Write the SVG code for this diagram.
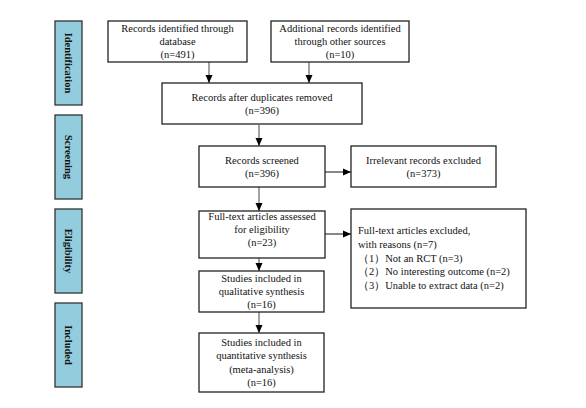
<svg xmlns="http://www.w3.org/2000/svg" width="586" height="408" viewBox="0 0 586 408">
<defs>
<style>
.box{fill:#fff;stroke:#222;stroke-width:1.3}
.side{fill:#93CDDD;stroke:#333;stroke-width:1.3}
.t{font-family:"Liberation Serif","Times New Roman",serif;font-size:10.5px;fill:#111;text-anchor:middle}
.l{font-family:"Liberation Serif","Times New Roman",serif;font-size:10.5px;fill:#111}
.s{font-family:"Liberation Serif","Times New Roman",serif;font-size:10.5px;font-weight:bold;fill:#111;text-anchor:middle}
.g{stroke:#8c8c8c;stroke-width:1.6;fill:none}
.k{stroke:#111;stroke-width:1;fill:none}
</style>
<marker id="ah" viewBox="0 0 8 8" refX="8" refY="4" markerWidth="8" markerHeight="8" markerUnits="userSpaceOnUse" orient="auto">
<path d="M0,0.5 L8,4 L0,7.5 Z" fill="#000"/>
</marker>
</defs>
<rect width="586" height="408" fill="#fff"/>

<g id="side-identification"><rect class="side" x="55" y="21" width="27" height="84"/><text class="s" transform="translate(68.5,63) rotate(90)" dy="3.5">Identification</text></g>
<g id="side-screening"><rect class="side" x="55" y="115" width="27" height="84"/><text class="s" transform="translate(68.5,157) rotate(90)" dy="3.5">Screening</text></g>
<g id="side-eligibility"><rect class="side" x="55" y="209" width="27" height="84"/><text class="s" transform="translate(68.5,251) rotate(90)" dy="3.5">Eligibility</text></g>
<g id="side-included"><rect class="side" x="55" y="303" width="27" height="84"/><text class="s" transform="translate(68.5,345) rotate(90)" dy="3.5">Included</text></g>

<g id="connectors">
<line class="g" x1="209" y1="62" x2="209" y2="83" marker-end="url(#ah)"/>
<line class="g" x1="309" y1="62" x2="309" y2="83" marker-end="url(#ah)"/>
<line class="g" x1="259" y1="125" x2="259" y2="146" marker-end="url(#ah)"/>
<line class="g" x1="259" y1="187" x2="259" y2="211" marker-end="url(#ah)"/>
<line class="g" x1="259" y1="258" x2="259" y2="271" marker-end="url(#ah)"/>
<line class="g" x1="259" y1="312" x2="259" y2="333" marker-end="url(#ah)"/>
<line class="k" x1="325" y1="172" x2="351" y2="172" marker-end="url(#ah)"/>
<line class="k" x1="325" y1="234" x2="351" y2="234" marker-end="url(#ah)"/>
</g>

<g id="n-database"><rect class="box" x="108" y="21" width="139" height="41"/>
<text class="t" x="177.5" y="32">Records identified through</text>
<text class="t" x="177.5" y="45">database</text>
<text class="t" x="177.5" y="58">(n=491)</text></g>

<g id="n-other"><rect class="box" x="271" y="21" width="138" height="41"/>
<text class="t" x="340" y="32">Additional records identified</text>
<text class="t" x="340" y="45">through other sources</text>
<text class="t" x="340" y="58">(n=10)</text></g>

<g id="n-duplicates"><rect class="box" x="162" y="83" width="200" height="41"/>
<text class="t" x="262" y="101">Records after duplicates removed</text>
<text class="t" x="262" y="114">(n=396)</text></g>

<g id="n-screened"><rect class="box" x="199" y="146" width="126" height="41"/>
<text class="t" x="262" y="164">Records screened</text>
<text class="t" x="262" y="177">(n=396)</text></g>

<g id="n-irrelevant"><rect class="box" x="351" y="146" width="145" height="41"/>
<text class="t" x="423.5" y="164">Irrelevant records excluded</text>
<text class="t" x="423.5" y="177">(n=373)</text></g>

<g id="n-fulltext"><rect class="box" x="199" y="211" width="126" height="47"/>
<text class="t" x="262" y="220">Full-text articles assessed</text>
<text class="t" x="262" y="233">for eligibility</text>
<text class="t" x="262" y="246">(n=23)</text></g>

<g id="n-excluded"><rect class="box" x="351" y="209" width="175" height="99"/>
<text class="l" x="358" y="234">Full-text articles excluded,</text>
<text class="l" x="358" y="248">with reasons (n=7)</text>
<text class="l" x="358" y="262">（1）Not an RCT (n=3)</text>
<text class="l" x="358" y="275">（2）No interesting outcome (n=2)</text>
<text class="l" x="358" y="289">（3）Unable to extract data (n=2)</text></g>

<g id="n-qualitative"><rect class="box" x="199" y="271" width="125" height="41"/>
<text class="t" x="261.5" y="282">Studies included in</text>
<text class="t" x="261.5" y="295">qualitative synthesis</text>
<text class="t" x="261.5" y="308">(n=16)</text></g>

<g id="n-quantitative"><rect class="box" x="199" y="333" width="125" height="59"/>
<text class="t" x="261.5" y="346">Studies included in</text>
<text class="t" x="261.5" y="359">quantitative synthesis</text>
<text class="t" x="261.5" y="373">(meta-analysis)</text>
<text class="t" x="261.5" y="386">(n=16)</text></g>
</svg>
